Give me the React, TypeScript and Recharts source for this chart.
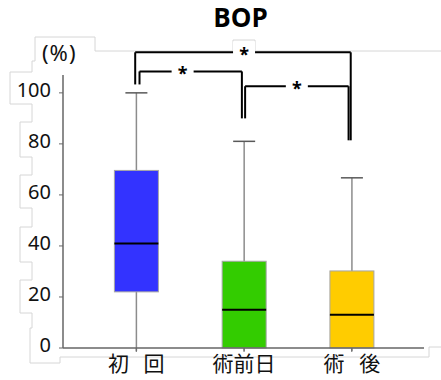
import React from 'react'
import { ComposedChart, Bar, XAxis, YAxis, ReferenceLine, ReferenceDot, Cell } from 'recharts'

// box plot values
const groups = ['初\u2002\u2009回', '術前日', '術\u2002\u2009後']
const mins = [0, 0, 0]
const q1s = [22, 0, 0]
const medians = [41, 15, 13]
const q3s = [69.6, 34, 30.2]
const maxs = [100, 81, 66.7]
const colors = ['#3333ff', '#33cc00', '#ffcc00']
const yTicks = [0, 20, 40, 60, 80, 100]

// significance brackets
const brackets = [
  { x1: 0.99, x2: 2.99, y: 115.9, yl: 103.3, yr: 81.4, sx: 2.0 },
  { x1: 1.03, x2: 1.98, y: 108.4, yl: 103.3, yr: 90, sx: 1.43 },
  { x1: 2.01, x2: 2.97, y: 102.6, yl: 90, yr: 81.4, sx: 2.49 },
]

const data = groups.map((name, i) => ({
  name,
  pos: i + 1,
  min: mins[i],
  q1: q1s[i],
  median: medians[i],
  q3: q3s[i],
  max: maxs[i],
}))

// faint outline left over from the source screenshot
const outline =
  '441,51 95,51 95,37 35,37 35,61 32,61 32,72 10,72 10,104 32,104 32,122 20,122 20,157 32,157 32,175 20,175 20,208 32,208 32,227 20,227 20,262 32,262 32,280 20,280 20,313 32,313 32,328 30,328 30,363 60,363 60,357 429,357 429,347 441,347'

const BoxShape = (props: any) => {
  const { x, y, width, height, payload, index } = props
  const { min, q1, median, q3, max } = payload
  const k = Math.abs(height) / (max - min)
  const top = Math.min(y, y + height)
  const py = (v: number) => top + (max - v) * k
  const cx = x + width / 2
  return (
    <g>
      <line x1={cx} x2={cx} y1={py(max)} y2={py(min) + 3} stroke="#8c8c8c" strokeWidth={1.5} />
      <line x1={cx - 11} x2={cx + 11} y1={py(max)} y2={py(max)} stroke="#595959" strokeWidth={1.5} />
      <rect x={x} y={py(q3)} width={width} height={py(q1) - py(q3)} fill={colors[index]} stroke="#a6a6a6" strokeWidth={1} />
      <line x1={x} x2={x + width} y1={py(median)} y2={py(median)} stroke="#000" strokeWidth={2} />
    </g>
  )
}

const Star = (props: any) => (
  <g>
    <rect x={props.cx - 11} y={props.cy - 11} width={22} height={16} fill="#fff" />
    <text x={props.cx} y={props.cy + 9} textAnchor="middle" fontSize={18} fontWeight="bold" fontFamily="Noto Sans" fill="#000">*</text>
  </g>
)

const YTick = (props: any) => (
  <text x={props.x} y={props.y + 4} textAnchor="end" fontSize={20} fontFamily="Noto Sans" fill="#111">
    {props.payload.value}
  </text>
)

export default function App() {
  return (
    <div style={{ position: 'absolute', left: 0, top: 0, width: 441, height: 380, background: '#fff' }}>
      <svg width={441} height={380} style={{ position: 'absolute', left: 0, top: 0 }}>
        <polyline points={outline} fill="none" stroke="#d6d6d6" strokeWidth={1} />
        <polyline points="233,51 233,40 255,40 255,51" fill="none" stroke="#d6d6d6" strokeWidth={1} />
      </svg>
      <div style={{ position: 'absolute', left: 0, width: 441, top: 0, textAlign: 'center', fontFamily: 'Open Sans', fontWeight: 'bold', fontSize: 26, lineHeight: '34px', paddingLeft: 40, boxSizing: 'border-box' }}>
        BOP
      </div>
      <div style={{ position: 'absolute', left: 42, top: 38, fontFamily: 'Noto Sans', fontSize: 22, letterSpacing: 1, lineHeight: '28px', color: '#111' }}>
        (%)
      </div>
      <div style={{ position: 'absolute', left: 0, top: 0 }}>
        <ComposedChart width={441} height={380} data={data} margin={{ top: 75, right: 17, bottom: 2, left: 13 }}>
          <XAxis
            type="number"
            dataKey="pos"
            domain={[0.32, 3.67]}
            ticks={[1, 2, 3]}
            tickFormatter={(v: number) => groups[v - 1]}
            height={30}
            tickSize={4}
            tickMargin={4}
            axisLine={{ stroke: '#666', strokeWidth: 1.5 }}
            tickLine={{ stroke: '#666' }}
            tick={{ fill: '#111', fontSize: 21, fontFamily: 'Noto Sans CJK JP' }}
          />
          <YAxis
            domain={[0, 107]}
            ticks={yTicks}
            width={50}
            tickSize={4}
            tickMargin={8}
            axisLine={{ stroke: '#666', strokeWidth: 1.5 }}
            tickLine={{ stroke: '#666' }}
            tick={<YTick />}
          />
          <Bar dataKey={(d: any) => [d.min, d.max]} barSize={44} shape={<BoxShape />} isAnimationActive={false}>
            {data.map((d, i) => (
              <Cell key={d.name} fill={colors[i]} />
            ))}
          </Bar>
          {brackets.map((b, i) => (
            <ReferenceLine key={'h' + i} segment={[{ x: b.x1, y: b.y }, { x: b.x2, y: b.y }]} stroke="#000" strokeWidth={2} ifOverflow="visible" />
          ))}
          {brackets.map((b, i) => (
            <ReferenceLine key={'l' + i} segment={[{ x: b.x1, y: b.y }, { x: b.x1, y: b.yl }]} stroke="#000" strokeWidth={2} ifOverflow="visible" />
          ))}
          {brackets.map((b, i) => (
            <ReferenceLine key={'r' + i} segment={[{ x: b.x2, y: b.y }, { x: b.x2, y: b.yr }]} stroke="#000" strokeWidth={2} ifOverflow="visible" />
          ))}
          {brackets.map((b, i) => (
            <ReferenceDot key={'s' + i} x={b.sx} y={b.y} r={0} shape={<Star />} ifOverflow="visible" />
          ))}
        </ComposedChart>
      </div>
    </div>
  )
}
